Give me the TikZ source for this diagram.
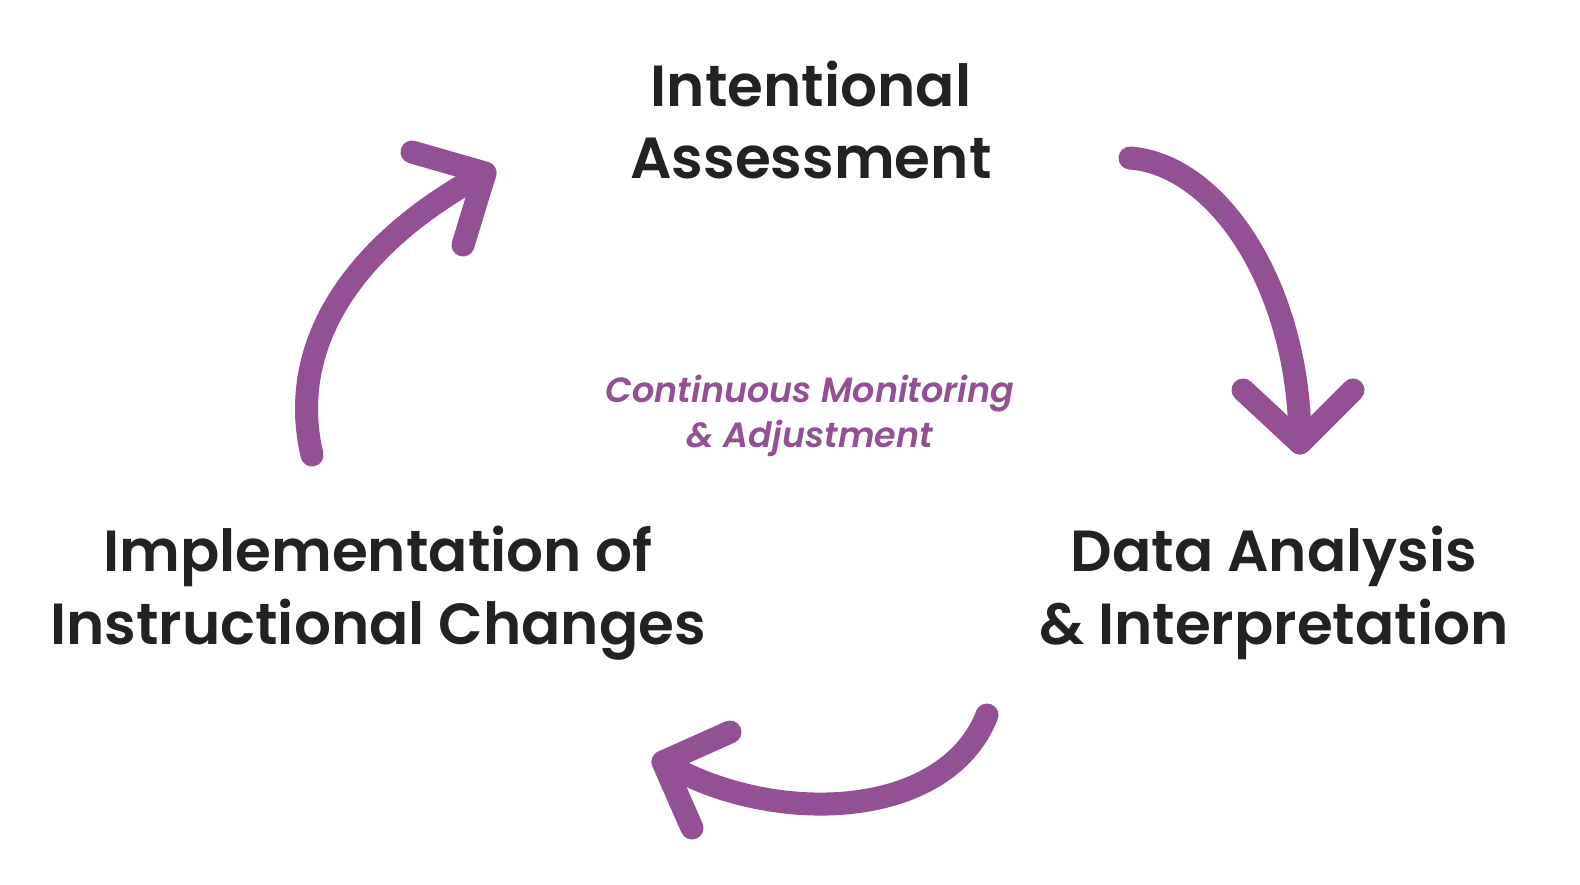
\documentclass[tikz,border=0pt]{standalone}
\usepackage{fontspec}
\setmainfont{Poppins}[BoldFont={Poppins SemiBold},BoldItalicFont={Poppins SemiBold Italic}]
\definecolor{cyclepurple}{RGB}{148,80,148}
\definecolor{stageink}{RGB}{34,34,34}
\begin{document}
\begin{tikzpicture}[x=1pt,y=-1pt,
  stage/.style={align=center,text=stageink,font=\fontsize{58}{72.5}\selectfont\bfseries},
  hub/.style={align=center,text=cyclepurple,font=\fontsize{35}{44.5}\selectfont\bfseries\itshape},
  cyclearrow/.style={draw=cyclepurple,line width=23pt,line cap=round,line join=round}]
  \useasboundingbox[fill=white] (0,0) rectangle (1580,884);

  % stage labels
  \node[stage] (assess) at (811,120) {Intentional\\Assessment};
  \node[stage] (analysis) at (1274,593) {Data Analysis\\\& Interpretation};
  \node[stage] (implement) at (378,593) {Implementation of\\Instructional Changes};
  \node[hub] (monitor) at (810,416) {Continuous Monitoring\\\& Adjustment};

  % arrow: implementation -> assessment
  \coordinate (a1s) at (312,455);
  \coordinate (a1t) at (485,173);
  \coordinate (a1l) at (412,152);
  \coordinate (a1r) at (463,245);
  \draw[cyclearrow] (a1s) .. controls (285,340) and (360,240) .. (a1t);
  \draw[cyclearrow] (a1l) -- (a1t) -- (a1r);

  % arrow: assessment -> analysis
  \coordinate (a2s) at (1130,158);
  \coordinate (a2t) at (1300,443);
  \coordinate (a2l) at (1243,390);
  \coordinate (a2r) at (1353,390);
  \draw[cyclearrow] (a2s) .. controls (1220,165) and (1300,290) .. (a2t);
  \draw[cyclearrow] (a2l) -- (a2t) -- (a2r);

  % arrow: analysis -> implementation
  \coordinate (a3s) at (987,715);
  \coordinate (a3t) at (663,762);
  \coordinate (a3u) at (730,732);
  \coordinate (a3d) at (692,828);
  \draw[cyclearrow] (a3s) .. controls (945,822) and (770,826) .. (a3t);
  \draw[cyclearrow] (a3u) -- (a3t) -- (a3d);
\end{tikzpicture}
\end{document}
